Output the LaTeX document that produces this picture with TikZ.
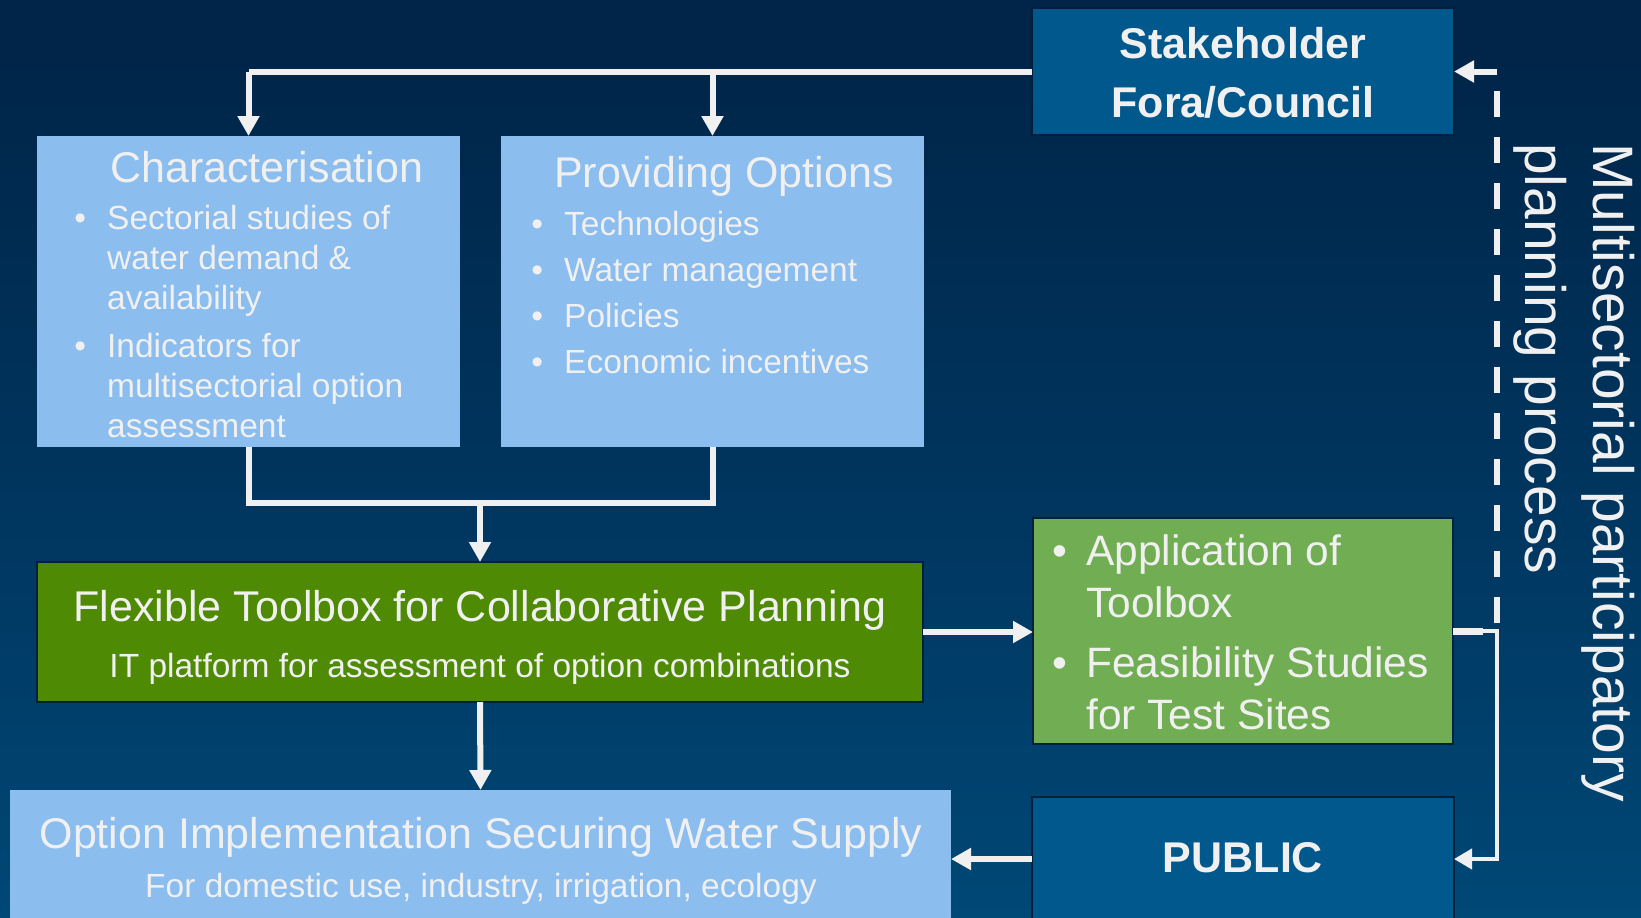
\documentclass[tikz,border=0pt]{standalone}
\usepackage{fontspec}
\setmainfont{Liberation Sans}
\usetikzlibrary{arrows.meta,calc}
\definecolor{bgtop}{RGB}{0,37,73}
\definecolor{bgmid}{RGB}{0,52,93}
\definecolor{bgbot}{RGB}{0,92,143}
\definecolor{txt}{RGB}{240,240,240}
\definecolor{lblue}{RGB}{139,189,238}
\definecolor{sblue}{RGB}{0,88,140}
\definecolor{dgreen}{RGB}{79,138,4}
\definecolor{lgreen}{RGB}{113,173,82}
\definecolor{edgecol}{RGB}{0,32,62}
\pgfdeclareverticalshading{bgshade}{100bp}{color(0bp)=(bgbot); color(50bp)=(bgmid); color(72bp)=(bgtop); color(100bp)=(bgtop)}
\newcommand{\bul}[1]{\llap{\textbullet\hspace{#1}}}
\begin{document}
\begin{tikzpicture}[x=1pt,y=-1pt,
  box/.style={inner sep=0pt, outer sep=0pt},
  framed/.style={box, draw=edgecol, line width=1.5pt},
  big/.style={text=txt, inner sep=0pt, font=\fontsize{43}{50}\selectfont},
  small/.style={text=txt, inner sep=0pt, font=\fontsize{33.5}{40}\selectfont},
  conn/.style={draw=txt, line width=6pt},
  arr/.style={conn, -{Triangle[length=20pt,width=21pt]}},
  thinarr/.style={draw=txt, line width=4pt, -{Triangle[length=18pt,width=20pt]}},
  dashline/.style={draw=txt, line width=6pt, dash pattern=on 26pt off 20pt}
]
\useasboundingbox (0,0) rectangle (1641,918);
\shade[shading=bgshade] (0,0) rectangle (1641,918);

% boxes
\node[framed, fill=sblue, minimum width=422pt, minimum height=127pt] (stake) at (1243,71.5) {};
\node[box, fill=lblue, minimum width=423pt, minimum height=311pt] (char) at (248.5,291.5) {};
\node[box, fill=lblue, minimum width=423pt, minimum height=311pt] (prov) at (712.5,291.5) {};
\node[framed, fill=dgreen, minimum width=886pt, minimum height=140pt] (tool) at (480,632) {};
\node[framed, fill=lgreen, minimum width=420pt, minimum height=226pt] (app) at (1243,631) {};
\node[framed, fill=sblue, minimum width=422pt, minimum height=124pt] (pub) at (1243,859) {};
\node[box, fill=lblue, minimum width=941pt, minimum height=128pt] (opt) at (480.5,854) {};

% texts (base anchor of a multi-line node = baseline of its last line)
\node[big, font=\fontsize{43}{59}\selectfont\bfseries, align=center, anchor=base] (stakeT) at (1243,117) {Stakeholder\\Fora/Council};
\node[big, anchor=base west] (charT) at (110,182) {Characterisation};
\node[small, align=left, anchor=base west] (charL) at (107,437)
  {\bul{21pt}Sectorial studies of\\water demand \&\\availability\\[8pt]
   \bul{21pt}Indicators for\\multisectorial option\\assessment};
\node[big, anchor=base west] (provT) at (554,187) {Providing Options};
\node[small, font=\fontsize{33.5}{46}\selectfont, align=left, anchor=base west] (provL) at (564,373)
  {\bul{21pt}Technologies\\\bul{21pt}Water management\\\bul{21pt}Policies\\\bul{21pt}Economic incentives};
\node[big, anchor=base] (toolT) at (480,621) {Flexible Toolbox for Collaborative Planning};
\node[small, anchor=base] (toolS) at (480,677) {IT platform for assessment of option combinations};
\node[big, font=\fontsize{42.5}{52}\selectfont, align=left, anchor=base west] (appL) at (1086,729)
  {\bul{19pt}Application of\\Toolbox\\[8pt]\bul{19pt}Feasibility Studies\\for Test Sites};
\node[big, anchor=base] (optT) at (481,848) {Option Implementation Securing Water Supply};
\node[small, anchor=base] (optS) at (481,897) {For domestic use, industry, irrigation, ecology};
\node[big, font=\fontsize{43}{50}\selectfont\bfseries, anchor=base] (pubT) at (1243,872) {PUBLIC};
\node[text=txt, inner sep=0pt, font=\fontsize{57}{68}\selectfont, align=left, rotate=-90, anchor=north west] (side) at (1635,143)
  {Multisectorial participatory\\planning process};

% connectors
\draw[conn] (stake.west) -- (char.north |- stake.west) coordinate (tl);
\draw[arr] (tl) -- (char.north);
\draw[arr] (prov.north |- stake.west) -- (prov.north);
\coordinate (mj) at (480,503);
\draw[conn] (char.south) |- (mj) -| (prov.south);
\draw[arr] (mj) -- (tool.north);
\draw[arr] (tool.south) -- (opt.north);
\draw[arr] (tool.east) -- (tool.east -| app.west);
\draw[arr] (pub.west) -- (pub.west -| opt.east);
\coordinate (dj) at ($(app.east)+(44,0)$);
\draw[draw=txt, line width=7pt] (app.east) -- ++(30,0);
\draw[thinarr] (app.east) -- (dj) |- (pub.east);
\coordinate (dtop) at (dj |- stake.east);
\draw[dashline] ($(dj)+(0,-8)$) -- ($(dtop)+(0,18)$);
\draw[arr] (dtop) -- (stake.east);
\end{tikzpicture}
\end{document}
